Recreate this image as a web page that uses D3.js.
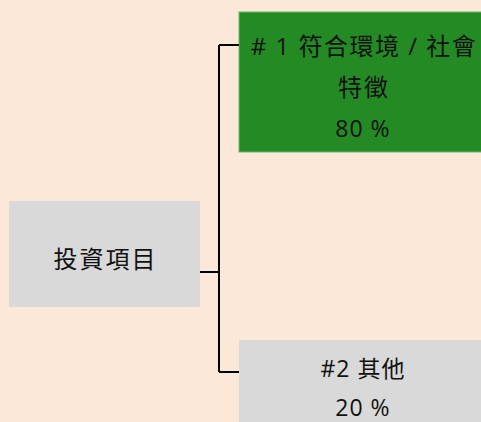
<!DOCTYPE html>
<html><head><meta charset="utf-8">
<script src="https://cdn.jsdelivr.net/npm/d3@7"></script>
<style>
html,body{margin:0;padding:0;background:#FBE8D8;}
svg{display:block;}
text{font-family:"Open Sans","Noto Sans CJK TC",sans-serif;fill:#111;}
</style></head>
<body>
<svg id="c" width="481" height="422"></svg>
<script>
const rootLabel = "投資項目";
const childLabels = [["# 1 符合環境 / 社會", "特徵"], ["#2 其他"]];
const childValues = [80, 20];
const childColors = ["#238A24", "#D9D9D9"];

const svg = d3.select("#c");

// layout scales
const y = d3.scaleLinear().domain([0, 1]).range([45, 372]);
const childTop = [12, 340];
const childBottom = [152, 440];

// root box
const root = {x0: 9, x1: 200, y0: 201, y1: 307};
svg.append("rect").attr("x", root.x0).attr("y", root.y0)
  .attr("width", root.x1 - root.x0).attr("height", root.y1 - root.y0)
  .attr("fill", "#D9D9D9");
svg.append("text").attr("x", (root.x0 + root.x1) / 2 + 1).attr("y", 258)
  .attr("text-anchor", "middle").attr("dominant-baseline", "central")
  .style("font-size", "24px").style("letter-spacing", "2px").text(rootLabel);

// connectors
const busX = 219, childX = 239;
const g = svg.append("g").attr("stroke", "#000").attr("stroke-width", 2).attr("fill", "none");
g.append("line").attr("x1", root.x1).attr("x2", busX).attr("y1", 272).attr("y2", 272);
g.append("line").attr("x1", busX).attr("x2", busX).attr("y1", y(0)).attr("y2", y(1));
childValues.forEach((v, i) => {
  g.append("line").attr("x1", busX).attr("x2", childX).attr("y1", y(i)).attr("y2", y(i));
});

// child boxes
childValues.forEach((v, i) => {
  svg.insert("rect", "g").attr("x", childX).attr("y", childTop[i])
    .attr("width", 260).attr("height", childBottom[i] - childTop[i])
    .attr("fill", childColors[i])
    .attr("stroke", i === 0 ? "#6FB56F" : "none").attr("stroke-width", 1);
  const lines = childLabels[i].concat([v + " %"]);
  const cx = 363;
  const startY = i === 0 ? 45 : 368;
  lines.forEach((t, j) => {
    const isNum = j === lines.length - 1 || i === 1;
    svg.append("text").attr("x", isNum ? cx : cx + 1)
      .attr("y", startY + j * (i === 0 ? 41.5 : 39))
      .attr("text-anchor", "middle").attr("dominant-baseline", "central")
      .style("font-size", isNum ? "23px" : "24px")
      .style("letter-spacing", isNum ? "1px" : (j === 0 ? "1.5px" : "2px"))
      .text(t);
  });
});
</script>
</body></html>
